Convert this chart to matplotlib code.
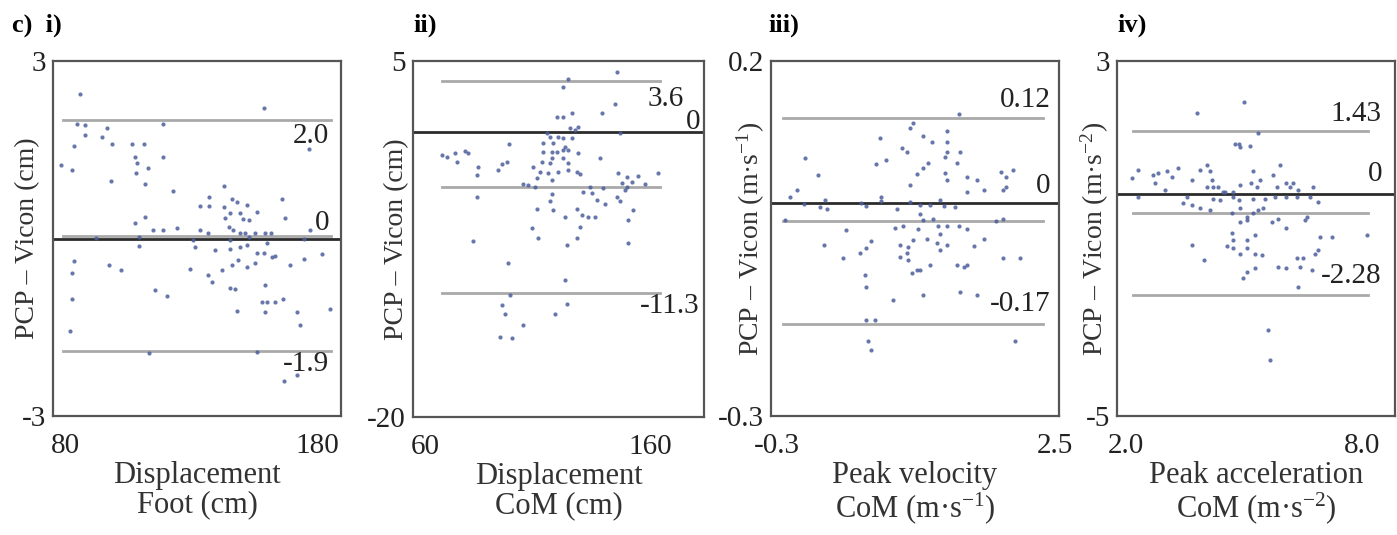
import matplotlib
matplotlib.use('Agg')
import matplotlib.pyplot as plt
import matplotlib.transforms as mtransforms

plt.rcParams['font.family'] = ['Liberation Serif', 'DejaVu Serif']
plt.rcParams['mathtext.fontset'] = 'custom'
plt.rcParams['mathtext.rm'] = 'Liberation Serif'
plt.rcParams['mathtext.it'] = 'Liberation Serif:italic'
plt.rcParams['axes.unicode_minus'] = False

# i) displacement of the foot (cm): mean of methods vs PCP - Vicon
foot_x = [85.8, 158.8, 84.7, 87.8, 87.8, 119.0, 96.7, 94.8, 98.8, 83.4,
          106.4, 111.3, 176.7, 78.5, 82.9, 107.7, 108.4, 113.0, 108.1, 119.0,
          98.1, 111.7, 122.7, 143.1, 166.0, 137.3, 133.6, 137.3, 146.2, 148.1,
          152.1, 156.1, 143.1, 145.5, 149.5, 143.5, 150.8, 152.8, 107.7, 111.7,
          167.4, 115.0, 119.0, 124.3, 133.6, 136.9, 145.0, 146.8, 92.4, 109.4,
          109.4, 130.9, 131.6, 139.5, 145.5, 145.5, 149.5, 151.5, 152.8, 155.4,
          159.4, 161.7, 149.5, 152.1, 156.1, 158.8, 162.1, 163.4, 160.1, 174.7,
          177.3, 182.0, 174.7, 169.4, 83.4, 82.9, 97.5, 102.0, 129.6, 136.9,
          138.2, 142.2, 146.2, 148.8, 152.1, 155.4, 145.5, 147.5, 159.4, 82.9,
          115.6, 120.3, 148.1, 158.1, 160.1, 163.4, 166.4, 159.4, 172.0, 173.3,
          185.0, 82.1, 113.4, 156.1, 167.0, 172.0]
foot_d = [2.44, 2.20, 1.94, 1.92, 1.75, 1.94, 1.87, 1.71, 1.60, 1.57,
          1.60, 1.60, 1.51, 1.24, 1.15, 1.38, 1.27, 1.20, 1.10, 1.38,
          0.98, 0.92, 0.80, 0.88, 0.67, 0.70, 0.55, 0.55, 0.67, 0.62,
          0.57, 0.45, 0.54, 0.43, 0.43, 0.35, 0.33, 0.31, 0.27, 0.37,
          0.34, 0.14, 0.14, 0.18, 0.14, 0.09, 0.20, 0.14, 0.01, 0.02,
          -0.13, -0.03, -0.15, -0.19, -0.03, -0.17, 0.09, 0.09, 0.03, 0.09,
          0.10, 0.09, -0.14, -0.11, -0.25, -0.25, -0.31, -0.30, -0.08, 0.00,
          0.14, -0.26, -0.34, -0.45, -0.38, -0.58, -0.44, -0.54, -0.52, -0.62,
          -0.73, -0.54, -0.45, -0.36, -0.48, -0.42, -0.84, -0.86, -0.79, -1.03,
          -0.87, -0.98, -1.23, -1.08, -1.08, -1.08, -1.03, -1.25, -1.24, -1.46,
          -1.19, -1.56, -1.93, -1.91, -2.41, -2.31]

# ii) displacement of the CoM (cm)
disp_x = [145.2, 121.5, 123.7, 144.4, 138.5, 125.2, 118.5, 121.5, 128.1, 124.4,
          146.7, 114.1, 115.6, 119.3, 121.5, 125.2, 126.7, 112.6, 117.0, 122.2,
          97.5, 67.4, 73.3, 77.8, 79.3, 74.1, 69.6, 112.6, 116.3, 118.5,
          121.5, 123.7, 128.1, 116.3, 121.5, 137.8, 96.3, 94.1, 92.6, 111.9,
          115.6, 123.7, 108.1, 83.7, 83.0, 111.1, 114.8, 119.3, 123.7, 127.4,
          128.9, 145.9, 149.6, 154.8, 163.7, 109.6, 116.3, 103.7, 105.9, 108.9,
          133.3, 139.3, 147.4, 149.6, 151.9, 148.9, 157.8, 83.0, 116.3, 115.6,
          130.4, 134.1, 136.3, 145.2, 146.7, 140.0, 152.6, 109.6, 117.0, 122.2,
          127.4, 129.6, 132.6, 135.6, 150.4, 107.4, 128.9, 81.5, 110.4, 127.4,
          123.0, 150.4, 97.0, 122.2, 97.8, 94.1, 95.6, 123.0, 117.8, 103.7,
          93.3, 98.5]
disp_d = [4.25, 3.15, 3.73, 1.95, 1.37, 1.37, 1.09, 1.09, 0.38, 0.27,
          -0.08, -0.08, -0.32, -0.32, -0.44, -0.44, 0.15, -0.79, -0.79, -1.02,
          -0.83, -1.61, -1.49, -1.30, -1.49, -2.08, -1.72, -1.37, -1.37, -1.37,
          -1.26, -1.26, -1.44, -1.84, -1.84, -1.84, -2.08, -2.24, -2.66, -2.08,
          -2.19, -2.19, -2.43, -2.43, -3.01, -2.78, -2.90, -2.78, -2.66, -2.78,
          -2.97, -2.90, -3.13, -3.06, -2.90, -3.25, -3.36, -3.65, -3.72, -3.88,
          -3.83, -3.95, -3.60, -3.83, -3.48, -4.07, -3.65, -4.54, -4.35, -4.84,
          -4.18, -4.30, -4.77, -4.54, -4.82, -5.05, -5.47, -5.36, -5.47, -5.94,
          -5.36, -5.78, -5.94, -5.94, -6.18, -6.76, -6.64, -7.63, -7.46, -7.46,
          -7.93, -7.77, -9.22, -10.39, -11.45, -12.15, -12.74, -12.03, -12.74, -13.56,
          -14.38, -14.42]

# iii) peak velocity of the CoM (m/s)
vel_x = [1.53, 1.41, 1.04, 1.07, 0.74, 1.17, 1.26, 0.96, 1.01, 1.41,
         1.41, 1.39, 1.54, 1.51, -0.02, 0.70, 0.80, 1.22, 1.17, 1.11,
         0.11, 1.39, 1.41, 1.61, 1.71, 1.96, 2.08, 2.01, 1.04, -0.10,
         -0.17, 1.61, 1.78, 1.98, 0.75, 2.01, -0.03, 0.13, 0.20, 0.18,
         0.55, 0.60, 0.75, 0.91, 1.04, 1.14, 1.24, 1.38, 1.49, 1.34,
         -0.22, 1.14, 1.17, 1.27, 1.98, 1.91, 0.40, 0.89, 0.97, 1.12,
         1.32, 1.41, 1.53, 1.61, 1.34, 1.78, 1.68, 0.17, 0.65, 0.60,
         0.54, 0.37, 0.94, 1.02, 1.01, 0.94, 1.07, 1.21, 1.31, 1.34,
         1.41, 1.02, 1.11, 1.06, 1.14, 1.24, 1.51, 1.58, 1.61, 1.98,
         2.15, 0.59, 0.60, 0.87, 1.17, 1.54, 1.71, 0.60, 0.69, 0.62,
         0.65, 2.10]
vel_d = [0.126, 0.102, 0.105, 0.112, 0.092, 0.095, 0.086, 0.078, 0.072, 0.086,
         0.072, 0.065, 0.072, 0.056, 0.064, 0.055, 0.061, 0.057, 0.049, 0.041,
         0.040, 0.042, 0.032, 0.037, 0.032, 0.043, 0.046, 0.037, 0.025, 0.019,
         0.009, 0.016, 0.018, 0.018, 0.009, 0.023, -0.001, -0.005, -0.008, 0.004,
         0.000, -0.004, 0.003, -0.008, 0.002, -0.003, -0.003, -0.004, -0.005, 0.004,
         -0.024, -0.015, -0.024, -0.022, -0.022, -0.025, -0.038, -0.035, -0.033, -0.036,
         -0.033, -0.032, -0.032, -0.036, -0.043, -0.051, -0.061, -0.059, -0.053, -0.064,
         -0.071, -0.078, -0.059, -0.062, -0.071, -0.076, -0.052, -0.050, -0.057, -0.066,
         -0.059, -0.080, -0.094, -0.099, -0.094, -0.087, -0.087, -0.090, -0.087, -0.078,
         -0.078, -0.101, -0.118, -0.136, -0.130, -0.125, -0.130, -0.165, -0.165, -0.194,
         -0.207, -0.194]

# iv) peak acceleration of the CoM (m/s^2)
acc_x = [5.00, 3.80, 4.88, 4.90, 4.77, 5.15, 5.36, 2.31, 2.14, 2.69,
         2.82, 3.03, 3.16, 3.33, 3.67, 3.88, 4.05, 4.14, 4.18, 4.22,
         4.05, 4.35, 4.47, 4.73, 4.90, 5.24, 5.41, 5.19, 5.32, 5.75,
         5.92, 5.83, 6.08, 6.17, 6.25, 6.38, 6.76, 2.74, 2.99, 2.31,
         3.46, 3.67, 3.88, 4.14, 4.22, 4.39, 4.52, 4.73, 4.86, 5.24,
         5.53, 5.79, 6.08, 6.34, 6.68, 6.89, 3.54, 4.69, 4.90, 5.07,
         5.24, 5.36, 5.49, 4.90, 5.07, 5.70, 5.87, 6.08, 6.55, 6.59,
         4.69, 4.73, 5.07, 5.28, 4.56, 4.73, 4.90, 5.07, 5.28, 5.45,
         3.67, 3.97, 6.93, 7.23, 8.12, 6.34, 6.51, 6.81, 6.89, 5.87,
         6.08, 5.07, 4.98, 5.28, 6.42, 6.72, 6.38, 5.62, 5.66]
acc_d = [2.08, 1.82, 1.14, 1.07, 1.13, 1.09, 1.37, 0.54, 0.36, 0.43,
         0.47, 0.51, 0.39, 0.58, 0.32, 0.54, 0.66, 0.51, 0.32, 0.17,
         0.17, 0.17, 0.05, 0.05, 0.21, 0.51, 0.32, 0.24, 0.17, 0.43,
         0.66, 0.17, 0.26, 0.17, 0.24, 0.09, 0.17, 0.24, 0.09, -0.06,
         -0.21, -0.25, -0.32, -0.36, -0.10, -0.13, 0.05, -0.06, -0.13, -0.10,
         -0.10, -0.06, -0.06, -0.06, -0.06, -0.17, -0.06, -0.43, -0.32, -0.51,
         -0.43, -0.36, -0.32, -0.62, -0.58, -0.62, -0.55, -0.77, -0.58, -0.51,
         -0.88, -1.03, -1.03, -0.92, -1.18, -1.22, -1.34, -1.22, -1.34, -1.37,
         -1.15, -1.49, -0.96, -0.96, -0.92, -1.45, -1.45, -1.34, -1.26, -1.64,
         -1.67, -1.75, -1.90, -1.67, -1.64, -1.71, -2.09, -3.06, -3.74]

# limits of agreement, bias and text shown next to the lines
upper = [2.0, 3.6, 0.12, 1.43]
lower = [-1.9, -11.3, -0.17, -2.28]
bias = [0.05, -3.85, -0.025, -0.43]
upper_txt = ['2.0', '3.6', '0.12', '1.43']
lower_txt = ['-1.9', '-11.3', '-0.17', '-2.28']

# extent of the grey lines (data range of the x variable)
span = [(79.2, 185.4), (67.6, 164.4), (-0.24, 2.38), (2.18, 8.15)]

ylims = [(-3, 3), (-20, 5), (-0.3, 0.2), (-5, 3)]
xlims = [(75.2, 189.5), (54.7, 184.0), (-0.36, 2.54), (1.77, 8.84)]
xticks = [(80, 180), (60, 160), (-0.3, 2.5), (2.0, 8.0)]
xtick_txt = [('80', '180'), ('60', '160'), ('-0.3', '2.5'), ('2.0', '8.0')]
ytick_txt = [('-3', '3'), ('-20', '5'), ('-0.3', '0.2'), ('-5', '3')]

xlabels = ['Displacement\nFoot (cm)', 'Displacement\nCoM (cm)',
           'Peak velocity\nCoM (m·s$^{-1}$)', 'Peak acceleration\nCoM (m·s$^{-2}$)']
ylabels = ['PCP – Vicon (cm)', 'PCP – Vicon (cm)',
           'PCP – Vicon (m·s$^{-1}$)', 'PCP – Vicon (m·s$^{-2}$)']
titles = ['c)  i)', 'ii)', 'iii)', 'iv)']

xs = [foot_x, disp_x, vel_x, acc_x]
ds = [foot_d, disp_d, vel_d, acc_d]

W, H = 1397, 535
# axes boxes in pixels: left, right, top, bottom
boxes = [(53, 341, 61, 416), (413, 704, 61, 417), (771, 1059, 61, 416), (1117, 1395, 61, 416)]
title_x = [12, 413, 768, 1117]
ylab_x = [-0.087, -0.058, -0.069, -0.079]
# right edge (axes fraction) of the upper / zero / lower labels
txt_x = [(0.96, 0.96, 0.96), (0.93, 0.986, 0.986), (0.97, 0.97, 0.97), (0.953, 0.953, 0.953)]
# offsets (points) for the upper, zero and lower labels
offs = [(-11.5, 11, -9.5), (-13, 7, -9.5), (13, 12, 14), (12, 14.5, 14)]

fig = plt.figure(figsize=(W / 100, H / 100), dpi=100)

for i in range(4):
    l, r, t, b = boxes[i]
    ax = fig.add_axes([l / W, 1 - b / H, (r - l) / W, (b - t) / H])
    ax.set_xlim(*xlims[i])
    ax.set_ylim(*ylims[i])

    lo, hi = span[i]
    for v in (upper[i], bias[i], lower[i]):
        ax.plot([lo, hi], [v, v], color='#a9a9a9', lw=2, zorder=1)
    ax.axhline(0, color='#2b2b2b', lw=2, zorder=2)

    ax.plot(xs[i], ds[i], 'o', ms=3, color='#4d5f9c', alpha=0.85,
            markeredgewidth=0, zorder=3)

    trans = mtransforms.blended_transform_factory(ax.transAxes, ax.transData)
    for v, s, o, tx in zip((upper[i], 0, lower[i]),
                           (upper_txt[i], '0', lower_txt[i]), offs[i], txt_x[i]):
        ax.annotate(s, xy=(tx, v), xycoords=trans, xytext=(0, o),
                    textcoords='offset points', ha='right', va='center',
                    fontsize=21, color='#222222')

    ax.set_xticks(xticks[i])
    ax.set_xticklabels(xtick_txt[i])
    ax.set_yticks(ylims[i])
    ax.set_yticklabels(ytick_txt[i])
    ax.tick_params(length=0, labelsize=21, colors='#222222')
    ax.tick_params(axis='x', pad=12)
    ax.tick_params(axis='y', pad=5)

    ax.set_xlabel(xlabels[i], fontsize=22, color='#333333', linespacing=1.0, labelpad=2)
    ax.set_ylabel(ylabels[i], fontsize=20, color='#333333', va='center')
    ax.yaxis.set_label_coords(ylab_x[i], 0.5)

    for sp in ax.spines.values():
        sp.set_color('#555555')
        sp.set_linewidth(1.6)

    fig.text(title_x[i] / W, 1 - 25 / H, titles[i], fontsize=19,
             fontweight='bold', ha='left', va='center')

fig.savefig('out.png', dpi=100)
